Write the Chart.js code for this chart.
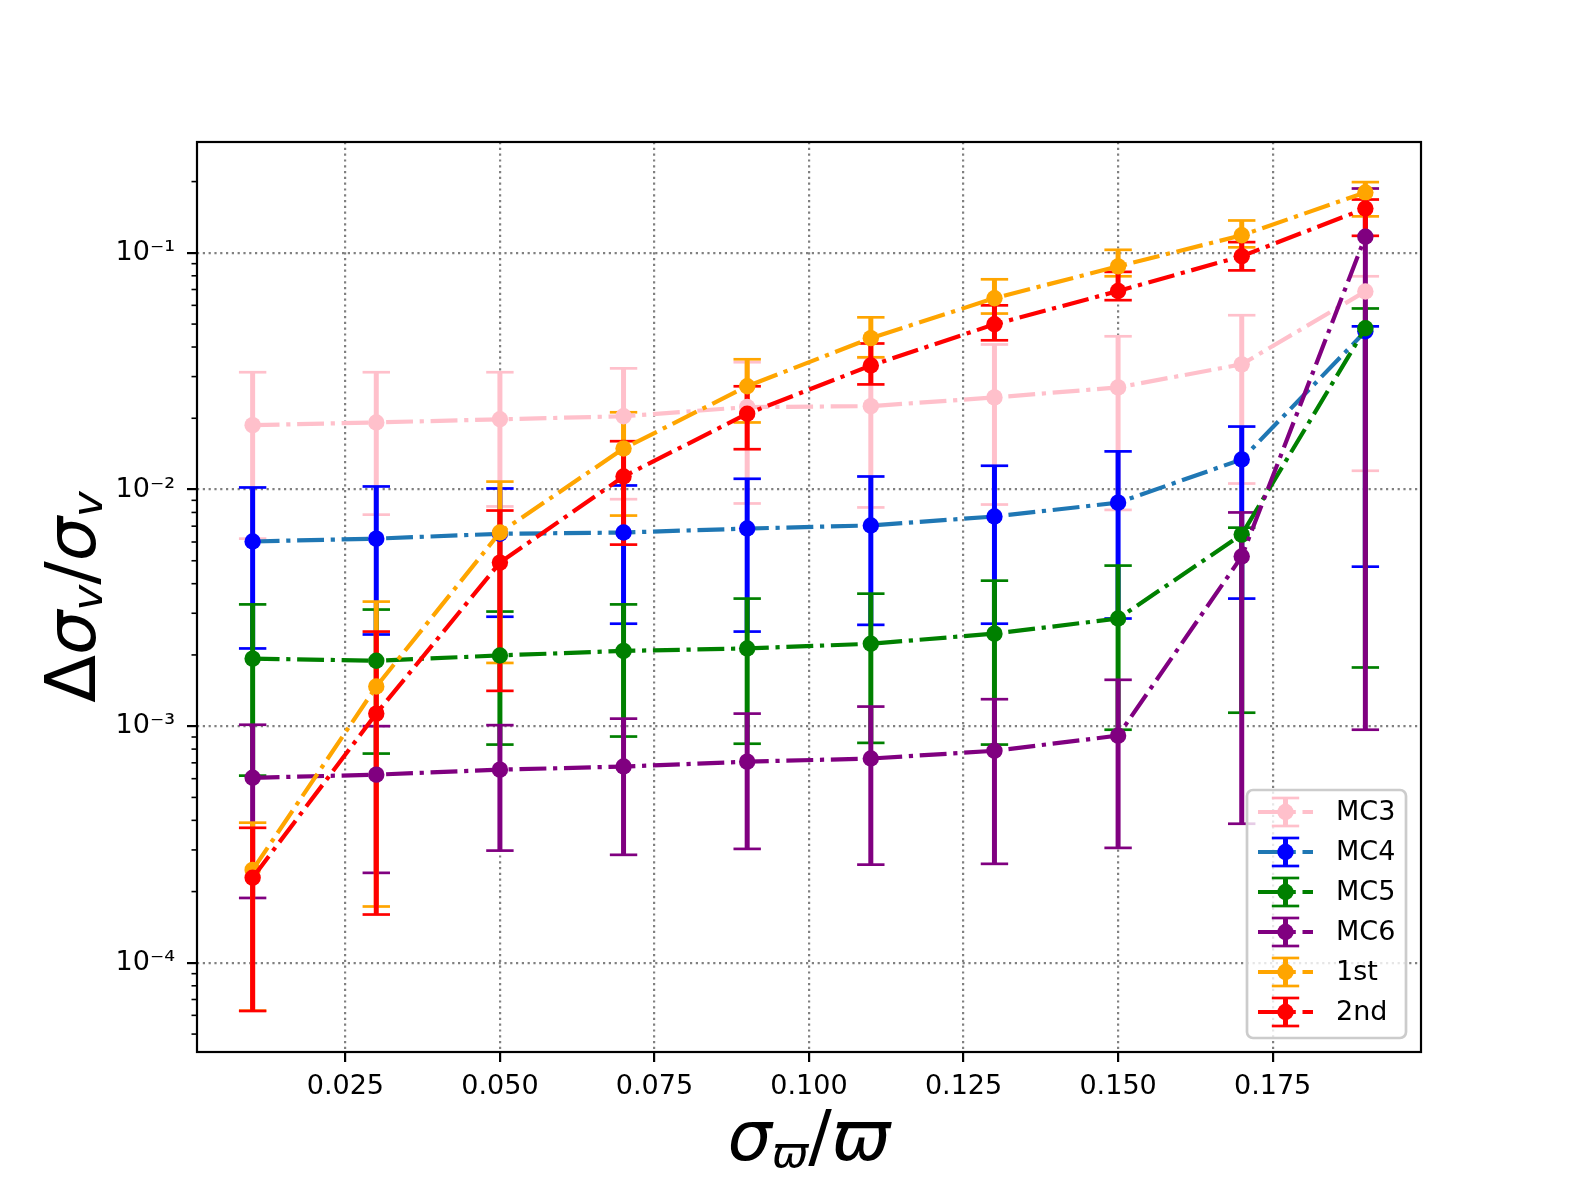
<!DOCTYPE html>
<html lang="en">
  <head>
    <meta charset="UTF-8">
    <title>Relative error vs parallax error</title>
    <script src="https://cdn.jsdelivr.net/npm/chart.js"></script>
    <style>
      html, body { margin: 0; padding: 0; background: #ffffff; }
      canvas { display: block; }
    </style>
  </head>
  <body>
    <canvas id="chart" width="1578" height="1183"></canvas>
    <script>
      // values
      const xValues = [0.01, 0.03, 0.05, 0.07, 0.09, 0.11, 0.13, 0.15, 0.17, 0.19];

      const mc3 = [0.0187, 0.0192, 0.0198, 0.0204, 0.0223, 0.0225, 0.0245, 0.0270, 0.0338, 0.0687];
      const mc3Hi = [0.0313, 0.0313, 0.0313, 0.0325, 0.0345, 0.0360, 0.0410, 0.0444, 0.0545, 0.0796];
      const mc3Lo = [0.0062, 0.00783, 0.00848, 0.0091, 0.00873, 0.0084, 0.00864, 0.0082, 0.0106, 0.0120];

      const mc4 = [0.00603, 0.0062, 0.0065, 0.00658, 0.00684, 0.00705, 0.00769, 0.0088, 0.0134, 0.0466];
      const mc4Hi = [0.0102, 0.0103, 0.0101, 0.0104, 0.0111, 0.01135, 0.0126, 0.01449, 0.01845, 0.0489];
      const mc4Lo = [0.00213, 0.00244, 0.0029, 0.00271, 0.00251, 0.00268, 0.00271, 0.00285, 0.00346, 0.00472];

      const mc5 = [0.00193, 0.00189, 0.00199, 0.00208, 0.00213, 0.00223, 0.00246, 0.00285, 0.00645, 0.048];
      const mc5Hi = [0.00327, 0.00311, 0.00305, 0.00327, 0.00346, 0.00363, 0.00412, 0.00477, 0.0069, 0.0582];
      const mc5Lo = [0.000618, 0.000766, 0.000836, 0.000904, 0.000843, 0.00085, 0.000836, 0.000966, 0.00114, 0.00177];

      const mc6 = [0.000605, 0.000624, 0.000655, 0.000675, 0.000708, 0.00073, 0.000787, 0.000912, 0.00521, 0.117];
      const mc6Hi = [0.001014, 0.001, 0.00101, 0.001076, 0.00113, 0.00121, 0.0013, 0.00157, 0.008, 0.187];
      const mc6Lo = [0.000188, 0.00024, 0.000298, 0.000286, 0.000303, 0.00026, 0.000262, 0.000306, 0.000387, 0.000966];

      const first = [0.000247, 0.00147, 0.00658, 0.0149, 0.0273, 0.0436, 0.0643, 0.0877, 0.1186, 0.180];
      const firstHi = [0.000391, 0.00336, 0.0108, 0.0212, 0.0355, 0.0534, 0.0773, 0.103, 0.137, 0.199];
      const firstLo = [0.0000628, 0.000173, 0.00185, 0.00776, 0.0192, 0.0362, 0.0554, 0.0796, 0.1055, 0.1426];

      const second = [0.000229, 0.00113, 0.00491, 0.01135, 0.0209, 0.0334, 0.0499, 0.069, 0.0968, 0.154];
      const secondHi = [0.000372, 0.00251, 0.00815, 0.016, 0.0273, 0.0414, 0.060, 0.0831, 0.111, 0.168];
      const secondLo = [0.0000626, 0.00016, 0.00141, 0.00585, 0.0148, 0.0278, 0.0427, 0.0631, 0.0843, 0.118];

      const xTicks = [0.025, 0.05, 0.075, 0.1, 0.125, 0.15, 0.175];
      const yTicks = [1e-4, 1e-3, 1e-2, 1e-1];

      const FONT = "DejaVu Sans";
      const SUP = { "-": "\u207B", "0": "\u2070", "1": "\u00B9", "2": "\u00B2", "3": "\u00B3",
                    "4": "\u2074", "5": "\u2075", "6": "\u2076", "7": "\u2077", "8": "\u2078", "9": "\u2079" };

      function makeSeries(label, vals, lo, hi, lineColor, markerColor, order) {
        return {
          label: label,
          data: xValues.map((x, i) => ({ x: x, y: vals[i] })),
          errLo: lo,
          errHi: hi,
          errorColor: markerColor,
          borderColor: lineColor,
          backgroundColor: markerColor,
          borderWidth: 4.2,
          borderDash: [26.9, 6.7, 4.2, 6.7],
          borderCapStyle: "butt",
          pointRadius: 8.2,
          pointHoverRadius: 8.2,
          pointBorderWidth: 0,
          pointBackgroundColor: markerColor,
          pointBorderColor: markerColor,
          fill: false,
          tension: 0,
          order: order,
        };
      }

      const datasets = [
        makeSeries("MC3", mc3, mc3Lo, mc3Hi, "pink", "pink", 5),
        makeSeries("MC4", mc4, mc4Lo, mc4Hi, "#1f77b4", "blue", 4),
        makeSeries("MC5", mc5, mc5Lo, mc5Hi, "green", "green", 3),
        makeSeries("MC6", mc6, mc6Lo, mc6Hi, "purple", "purple", 2),
        makeSeries("1st", first, firstLo, firstHi, "orange", "orange", 1),
        makeSeries("2nd", second, secondLo, secondHi, "red", "red", 0),
      ];

      // vertical error bars with caps, drawn under all lines (like matplotlib)
      const errorBars = {
        id: "errorBars",
        beforeDatasetsDraw(chart) {
          const { ctx, chartArea, scales: { x, y } } = chart;
          ctx.save();
          ctx.beginPath();
          ctx.rect(chartArea.left, chartArea.top, chartArea.right - chartArea.left, chartArea.bottom - chartArea.top);
          ctx.clip();
          chart.data.datasets.forEach((ds) => {
            ctx.strokeStyle = ds.errorColor;
            ctx.lineCap = "butt";
            ctx.lineWidth = 5;
            ds.data.forEach((p, i) => {
              const px = x.getPixelForValue(p.x);
              ctx.beginPath();
              ctx.moveTo(px, y.getPixelForValue(ds.errHi[i]));
              ctx.lineTo(px, y.getPixelForValue(ds.errLo[i]));
              ctx.stroke();
            });
            ctx.lineWidth = 2.7;
            ds.data.forEach((p, i) => {
              const px = x.getPixelForValue(p.x);
              [ds.errHi[i], ds.errLo[i]].forEach((v) => {
                const py = y.getPixelForValue(v);
                ctx.beginPath();
                ctx.moveTo(px - 13.7, py);
                ctx.lineTo(px + 13.7, py);
                ctx.stroke();
              });
            });
          });
          ctx.restore();
        },
      };

      // frame, minor ticks on the log axis, axis titles and legend
      const decorations = {
        id: "decorations",
        afterDatasetsDraw(chart) {
          const { ctx, chartArea, scales: { y } } = chart;
          ctx.save();
          ctx.strokeStyle = "#000000";
          ctx.lineWidth = 2.2;
          ctx.strokeRect(chartArea.left, chartArea.top, chartArea.right - chartArea.left, chartArea.bottom - chartArea.top);
          ctx.lineWidth = 1.6;
          for (let e = -5; e <= 0; e++) {
            for (let m = 2; m <= 9; m++) {
              const v = m * Math.pow(10, e);
              if (v < y.min || v > y.max) continue;
              const py = y.getPixelForValue(v);
              ctx.beginPath();
              ctx.moveTo(chartArea.left, py);
              ctx.lineTo(chartArea.left - 5.5, py);
              ctx.stroke();
            }
          }
          ctx.restore();
        },
        afterDraw(chart) {
          const { ctx, chartArea } = chart;
          drawMath(ctx, [
            { t: "\u0394" }, { t: "\u03C3", it: true }, { t: "v", it: true, sub: true },
            { t: "/" }, { t: "\u03C3", it: true }, { t: "v", it: true, sub: true },
          ], 95, (chartArea.top + chartArea.bottom) / 2, true);
          drawMath(ctx, [
            { t: "\u03C3", it: true }, { t: "\u03D6", it: true, sub: true },
            { t: "/" }, { t: "\u03D6", it: true },
          ], (chartArea.left + chartArea.right) / 2, 1160, false);
          drawLegend(chart);
        },
      };

      function drawMath(ctx, parts, cx, baseY, vertical) {
        const size = 70;
        const fontOf = (p) => (p.it ? "italic " : "") + (p.sub ? size * 0.62 : size) + "px " + FONT;
        let total = 0;
        parts.forEach((p) => { ctx.font = fontOf(p); p.w = ctx.measureText(p.t).width; total += p.w; });
        ctx.save();
        ctx.translate(cx, baseY);
        if (vertical) ctx.rotate(-Math.PI / 2);
        ctx.fillStyle = "#000000";
        ctx.textBaseline = "alphabetic";
        ctx.textAlign = "left";
        let pos = -total / 2;
        parts.forEach((p) => {
          ctx.font = fontOf(p);
          ctx.fillText(p.t, pos, p.sub ? 7 : 0);
          pos += p.w;
        });
        ctx.restore();
      }

      function drawLegend(chart) {
        const { ctx, chartArea } = chart;
        const right = chartArea.right - 15;
        const bottom = chartArea.bottom - 14;
        const w = 159, h = 248, r = 6;
        const left = right - w, top = bottom - h;
        ctx.save();
        ctx.beginPath();
        ctx.roundRect(left, top, w, h, r);
        ctx.fillStyle = "rgba(255,255,255,0.8)";
        ctx.fill();
        ctx.strokeStyle = "#cccccc";
        ctx.lineWidth = 2.7;
        ctx.stroke();
        chart.data.datasets.forEach((ds, i) => {
          const cy = top + 22 + i * 40;
          const x0 = left + 11, x1 = left + 66, xm = (x0 + x1) / 2;
          ctx.strokeStyle = ds.borderColor;
          ctx.lineWidth = ds.borderWidth;
          ctx.setLineDash(ds.borderDash);
          ctx.beginPath();
          ctx.moveTo(x0, cy);
          ctx.lineTo(x1, cy);
          ctx.stroke();
          ctx.setLineDash([]);
          ctx.strokeStyle = ds.errorColor;
          ctx.lineWidth = 5;
          ctx.beginPath();
          ctx.moveTo(xm, cy - 14);
          ctx.lineTo(xm, cy + 14);
          ctx.stroke();
          ctx.lineWidth = 2.7;
          [cy - 14, cy + 14].forEach((yy) => {
            ctx.beginPath();
            ctx.moveTo(xm - 13.7, yy);
            ctx.lineTo(xm + 13.7, yy);
            ctx.stroke();
          });
          ctx.fillStyle = ds.pointBackgroundColor;
          ctx.beginPath();
          ctx.arc(xm, cy, 8.2, 0, Math.PI * 2);
          ctx.fill();
          ctx.fillStyle = "#000000";
          ctx.font = "27px " + FONT;
          ctx.textBaseline = "middle";
          ctx.textAlign = "left";
          ctx.fillText(ds.label, left + 89, cy + 1);
        });
        ctx.restore();
      }

      const gridStyle = {
        color: "gray",
        lineWidth: 2.2,
        tickColor: "#000000",
        tickWidth: 2.2,
        tickLength: 10,
      };

      new Chart(document.getElementById("chart").getContext("2d"), {
        type: "line",
        data: { datasets: datasets },
        options: {
          responsive: false,
          devicePixelRatio: 1,
          animation: false,
          layout: { padding: { top: 142, right: 157, left: 0, bottom: 0 } },
          plugins: { legend: { display: false }, tooltip: { enabled: false } },
          scales: {
            x: {
              type: "linear",
              min: 0.001,
              max: 0.199,
              afterBuildTicks: (s) => { s.ticks = xTicks.map((v) => ({ value: v })); },
              afterFit: (s) => { s.height = 131; },
              ticks: {
                autoSkip: false,
                maxRotation: 0,
                padding: 9,
                color: "#000000",
                font: { family: FONT, size: 27 },
                callback: (v) => Number(v).toFixed(3),
              },
              grid: gridStyle,
              border: { display: false, dash: [2.2, 3.6] },
            },
            y: {
              type: "logarithmic",
              min: 4.2e-5,
              max: 0.294,
              afterBuildTicks: (s) => { s.ticks = yTicks.map((v) => ({ value: v, major: true })); },
              afterFit: (s) => { s.width = 197; },
              ticks: {
                autoSkip: false,
                padding: 12,
                color: "#000000",
                font: { family: FONT, size: 27 },
                callback: (v) => "10" + String(Math.round(Math.log10(v))).split("").map((c) => SUP[c]).join(""),
              },
              grid: gridStyle,
              border: { display: false, dash: [2.2, 3.6] },
            },
          },
        },
        plugins: [errorBars, decorations],
      });
    </script>
  </body>
</html>
